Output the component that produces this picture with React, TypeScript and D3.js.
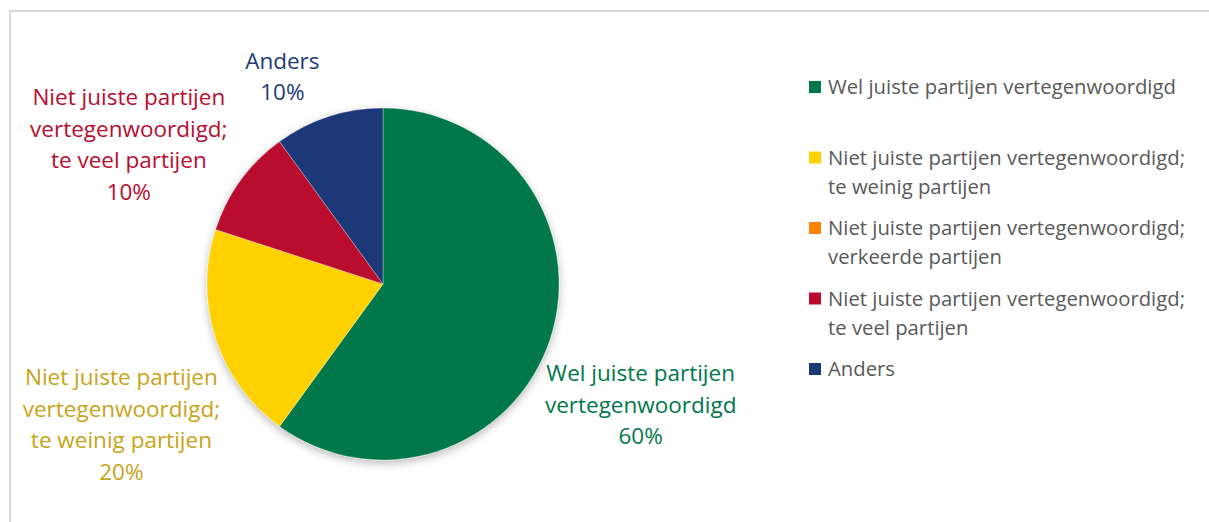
import { useEffect, useRef } from 'react';
import * as d3 from 'd3';

const categories = [
  'Wel juiste partijen vertegenwoordigd',
  'Niet juiste partijen vertegenwoordigd; te weinig partijen',
  'Niet juiste partijen vertegenwoordigd; verkeerde partijen',
  'Niet juiste partijen vertegenwoordigd; te veel partijen',
  'Anders',
];
const values = [60, 20, 0, 10, 10];
const sliceColors = ['#00784a', '#ffd100', '#ff8200', '#ba0c2f', '#1d3877'];
const labelColors = ['#00784a', '#c9a318', '#ff8200', '#ba0c2f', '#1f3a78'];
// data label lines (as wrapped in the chart)
const labelLines = [
  ['Wel juiste partijen', 'vertegenwoordigd'],
  ['Niet juiste partijen', 'vertegenwoordigd;', 'te weinig partijen'],
  ['Niet juiste partijen', 'vertegenwoordigd;', 'verkeerde partijen'],
  ['Niet juiste partijen', 'vertegenwoordigd;', 'te veel partijen'],
  ['Anders'],
];
const legendLines = [
  ['Wel juiste partijen vertegenwoordigd'],
  ['Niet juiste partijen vertegenwoordigd;', 'te weinig partijen'],
  ['Niet juiste partijen vertegenwoordigd;', 'verkeerde partijen'],
  ['Niet juiste partijen vertegenwoordigd;', 'te veel partijen'],
  ['Anders'],
];
// small tweaks to mimic Excel's label placement
const labelNudge: [number, number][] = [[-15, 16], [14, 20], [0, 0], [-5, 33], [-6, 1]];

const App = () => {
  const svgRef = useRef<SVGSVGElement | null>(null);

  const width = 1209;
  const height = 522;
  const cx = 383;
  const cy = 284;
  const radius = 176;
  const font = '"Open Sans", "Noto Sans", sans-serif';

  useEffect(() => {
    const svgElement = svgRef.current;
    if (!svgElement) return;
    const svg = d3.select(svgElement);
    svg.selectAll('*').remove();

    const defs = svg.append('defs');
    defs.append('filter')
      .attr('id', 'pieShadow')
      .attr('x', '-20%').attr('y', '-20%').attr('width', '140%').attr('height', '140%')
      .append('feDropShadow')
      .attr('dx', 0).attr('dy', 3).attr('stdDeviation', 4)
      .attr('flood-color', '#000').attr('flood-opacity', 0.28);

    svg.append('rect')
      .attr('x', 10).attr('y', 11)
      .attr('width', width).attr('height', height)
      .attr('fill', '#fff')
      .attr('stroke', '#d9d9d9').attr('stroke-width', 2);

    const pie = d3.pie<number>().sort(null).value(d => d);
    const arcs = pie(values);
    const arc = d3.arc<d3.PieArcDatum<number>>().innerRadius(0).outerRadius(radius);

    const g = svg.append('g').attr('transform', `translate(${cx},${cy})`);
    g.append('g').attr('filter', 'url(#pieShadow)')
      .selectAll('path')
      .data(arcs.filter(a => a.value > 0))
      .join('path')
      .attr('d', arc)
      .attr('fill', d => sliceColors[d.index])
      .attr('stroke', '#ffffff')
      .attr('stroke-opacity', 0.5)
      .attr('stroke-width', 0.6);

    // data labels, outside end
    const lineH = 31.5;
    arcs.forEach(a => {
      if (a.value <= 0) return;
      const i = a.index;
      const mid = (a.startAngle + a.endAngle) / 2;
      const dx = Math.sin(mid);
      const dy = -Math.cos(mid);
      const lines = [...labelLines[i], `${values[i]}%`];
      const t = g.append('text')
        .attr('text-anchor', 'middle')
        .attr('font-family', font)
        .attr('font-size', 22.5)
        .attr('fill', labelColors[i]);
      lines.forEach((ln, k) => {
        t.append('tspan').attr('x', 0).attr('y', k * lineH).text(ln);
      });
      const bb = (t.node() as SVGTextElement).getBBox();
      const w = bb.width;
      const h = lines.length * lineH;
      const px = dx * (radius + 10);
      const py = dy * (radius + 10);
      const ccx = px + Math.sign(dx) * w / 2 + labelNudge[i][0];
      const ccy = py + Math.sign(dy) * h / 2 + labelNudge[i][1];
      // baseline of first line sits a bit below the line centre
      const top = ccy - h / 2 + lineH / 2 + 8;
      t.attr('transform', `translate(${ccx},${top})`);
    });

    // legend
    const legend = svg.append('g').attr('transform', 'translate(809,87)');
    const legendStep = 70.5;
    categories.forEach((c, i) => {
      const item = legend.append('g').attr('transform', `translate(0,${i * legendStep})`);
      item.append('rect')
        .attr('x', 0).attr('y', -6)
        .attr('width', 12).attr('height', 12)
        .attr('fill', sliceColors[i]);
      const t = item.append('text')
        .attr('font-family', font)
        .attr('font-size', 20.3)
        .attr('fill', '#595959');
      t.append('title').text(c);
      legendLines[i].forEach((ln, k) => {
        t.append('tspan').attr('x', 19).attr('y', 7 + k * 29).text(ln);
      });
    });
  }, []);

  return (
    <svg
      ref={svgRef}
      width={width}
      height={height}
      style={{ position: 'absolute', left: 0, top: 0, display: 'block' }}
    />
  );
};

export default App;
